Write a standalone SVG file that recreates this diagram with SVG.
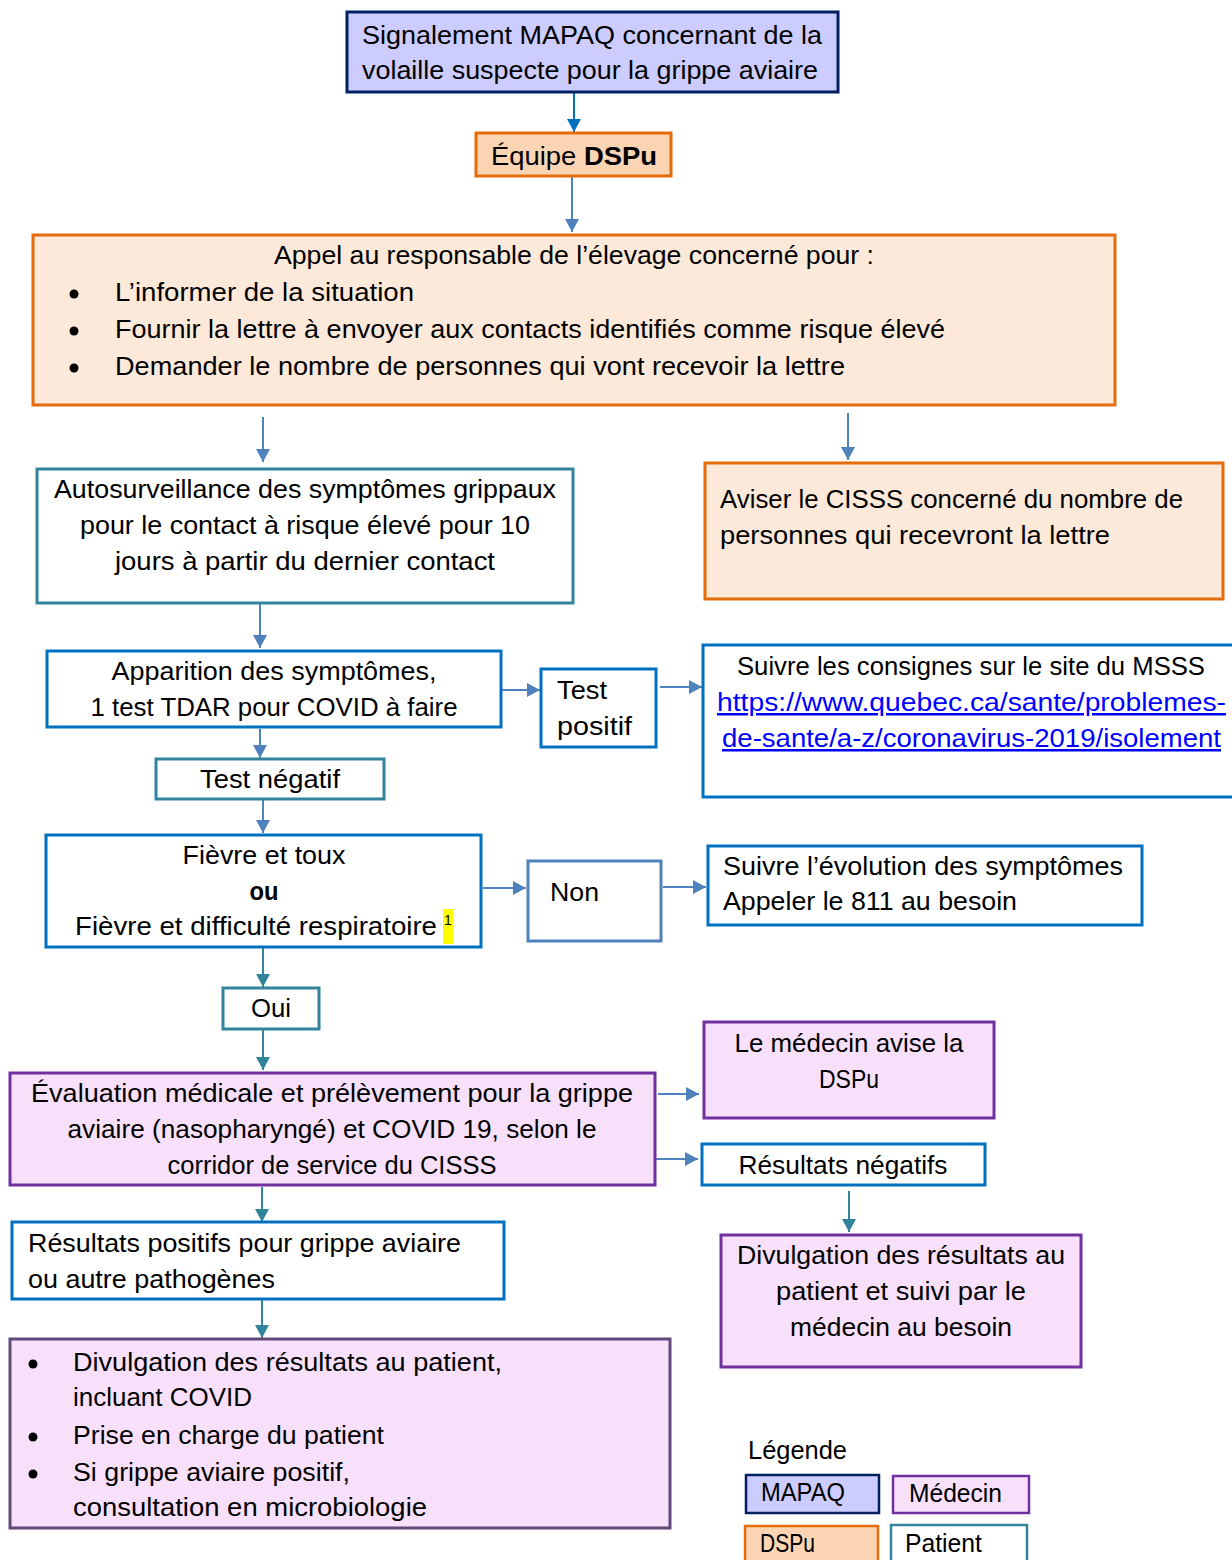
<svg xmlns="http://www.w3.org/2000/svg" width="1232" height="1560" viewBox="0 0 1232 1560">
<style>
text{font-family:"Liberation Sans",Arial,sans-serif;font-size:25px;fill:#000}
.c{text-anchor:middle}
.b{stroke-width:3}
.mapaq{fill:#ccccff;stroke:#002060}
.dspu{fill:#fbd4b4;stroke:#e46c0a}
.dspl{fill:#fde9d9;stroke:#e46c0a}
.pat{fill:#fff;stroke:#31849b}
.blue{fill:#fff;stroke:#0070c0}
.lb{fill:#fff;stroke:#4f81bd}
.med{fill:#f8e0fb;stroke:#7030a0}
.med2{fill:#f8e0fb;stroke:#604a7b}
.link{fill:#0000ff;text-decoration:underline}
.a1{stroke:#0070c0;stroke-width:2;fill:none;marker-end:url(#m1)}
.a2{stroke:#4f81bd;stroke-width:2;fill:none;marker-end:url(#m2)}
.a3{stroke:#31849b;stroke-width:2;fill:none;marker-end:url(#m3)}
</style>
<defs>
<marker id="m1" markerUnits="userSpaceOnUse" markerWidth="14" markerHeight="14" refX="13" refY="7" orient="auto"><path d="M0,0 L13,7 L0,14 z" fill="#0070c0"/></marker>
<marker id="m2" markerUnits="userSpaceOnUse" markerWidth="14" markerHeight="14" refX="13" refY="7" orient="auto"><path d="M0,0 L13,7 L0,14 z" fill="#4f81bd"/></marker>
<marker id="m3" markerUnits="userSpaceOnUse" markerWidth="14" markerHeight="14" refX="13" refY="7" orient="auto"><path d="M0,0 L13,7 L0,14 z" fill="#31849b"/></marker>
</defs>
<rect width="1232" height="1560" fill="#fff"/>

<g id="connectors">
<line class="a1" x1="574" y1="93" x2="574" y2="132"/>
<line class="a2" x1="572" y1="177" x2="572" y2="232"/>
<line class="a2" x1="263" y1="417" x2="263" y2="462"/>
<line class="a2" x1="848" y1="413" x2="848" y2="460"/>
<line class="a2" x1="260" y1="604" x2="260" y2="648"/>
<line class="a2" x1="502" y1="690" x2="540" y2="690"/>
<line class="a2" x1="660" y1="687" x2="702" y2="687"/>
<line class="a2" x1="260" y1="729" x2="260" y2="758"/>
<line class="a2" x1="263" y1="800" x2="263" y2="833"/>
<line class="a2" x1="483" y1="888" x2="526" y2="888"/>
<line class="a2" x1="663" y1="887" x2="706" y2="887"/>
<line class="a3" x1="263" y1="948" x2="263" y2="987"/>
<line class="a3" x1="263" y1="1030" x2="263" y2="1070"/>
<line class="a2" x1="658" y1="1094" x2="699" y2="1094"/>
<line class="a2" x1="656" y1="1159" x2="698" y2="1159"/>
<line class="a3" x1="849" y1="1191" x2="849" y2="1232"/>
<line class="a3" x1="262" y1="1187" x2="262" y2="1222"/>
<line class="a3" x1="262" y1="1300" x2="262" y2="1338"/>
</g>

<g id="n-mapaq">
<rect class="mapaq b" x="347" y="12" width="491" height="80"/>
<text class="c" x="592" y="44" textLength="460" lengthAdjust="spacingAndGlyphs">Signalement MAPAQ concernant de la</text>
<text class="c" x="590" y="79" textLength="456" lengthAdjust="spacingAndGlyphs">volaille suspecte pour la grippe aviaire</text>
</g>

<g id="n-dspu">
<rect class="dspu b" x="476" y="133" width="195" height="43"/>
<text class="c" x="574" y="165" textLength="166" lengthAdjust="spacingAndGlyphs">Équipe <tspan font-weight="bold">DSPu</tspan></text>
</g>

<g id="n-appel">
<rect class="dspl b" x="33" y="235" width="1082" height="170"/>
<text class="c" x="574" y="264" textLength="600" lengthAdjust="spacingAndGlyphs">Appel au responsable de l’élevage concerné pour :</text>
<circle cx="74" cy="294" r="4.5"/>
<circle cx="74" cy="331" r="4.5"/>
<circle cx="74" cy="368" r="4.5"/>
<text x="115" y="301" textLength="299" lengthAdjust="spacingAndGlyphs">L’informer de la situation</text>
<text x="115" y="338" textLength="830" lengthAdjust="spacingAndGlyphs">Fournir la lettre à envoyer aux contacts identifiés comme risque élevé</text>
<text x="115" y="375" textLength="730" lengthAdjust="spacingAndGlyphs">Demander le nombre de personnes qui vont recevoir la lettre</text>
</g>

<g id="n-auto">
<rect class="pat b" x="37" y="469" width="536" height="134"/>
<text class="c" x="305" y="498" textLength="502" lengthAdjust="spacingAndGlyphs">Autosurveillance des symptômes grippaux</text>
<text class="c" x="305" y="534" textLength="450" lengthAdjust="spacingAndGlyphs">pour le contact à risque élevé pour 10</text>
<text class="c" x="305" y="570" textLength="380" lengthAdjust="spacingAndGlyphs">jours à partir du dernier contact</text>
</g>

<g id="n-cisss">
<rect class="dspl b" x="705" y="463" width="518" height="136"/>
<text x="720" y="508" textLength="463" lengthAdjust="spacingAndGlyphs">Aviser le CISSS concerné du nombre de</text>
<text x="720" y="544" textLength="390" lengthAdjust="spacingAndGlyphs">personnes qui recevront la lettre</text>
</g>

<g id="n-apparition">
<rect class="blue b" x="47" y="651" width="454" height="76"/>
<text class="c" x="274" y="680" textLength="325" lengthAdjust="spacingAndGlyphs">Apparition des symptômes,</text>
<text class="c" x="274" y="716" textLength="367" lengthAdjust="spacingAndGlyphs">1 test TDAR pour COVID à faire</text>
</g>

<g id="n-testpos">
<rect class="blue b" x="541" y="669" width="115" height="78"/>
<text x="557" y="699" textLength="50" lengthAdjust="spacingAndGlyphs">Test</text>
<text x="557" y="735" textLength="75" lengthAdjust="spacingAndGlyphs">positif</text>
</g>

<g id="n-msss">
<rect class="blue b" x="703" y="645" width="535" height="152"/>
<text class="c" x="971" y="675" textLength="468" lengthAdjust="spacingAndGlyphs">Suivre les consignes sur le site du MSSS</text>
<text class="link" x="717" y="711" textLength="509" lengthAdjust="spacingAndGlyphs">https://www.quebec.ca/sante/problemes-</text>
<text class="link" x="722" y="747" textLength="499" lengthAdjust="spacingAndGlyphs">de-sante/a-z/coronavirus-2019/isolement</text>
</g>

<g id="n-testneg">
<rect class="pat b" x="156" y="759" width="228" height="40"/>
<text class="c" x="270" y="788" textLength="140" lengthAdjust="spacingAndGlyphs">Test négatif</text>
</g>

<g id="n-fievre">
<rect class="blue b" x="46" y="835" width="435" height="112"/>
<text class="c" x="264" y="864" textLength="163" lengthAdjust="spacingAndGlyphs">Fièvre et toux</text>
<text class="c" x="264" y="900" font-weight="bold" textLength="29" lengthAdjust="spacingAndGlyphs">ou</text>
<text x="75" y="935" textLength="362" lengthAdjust="spacingAndGlyphs">Fièvre et difficulté respiratoire</text>
<rect x="443" y="909" width="10" height="35" fill="#ffff00"/>
<text x="444" y="925" style="font-size:14px">1</text>
</g>

<g id="n-non">
<rect class="lb b" x="528" y="861" width="133" height="80"/>
<text x="550" y="901" textLength="49" lengthAdjust="spacingAndGlyphs">Non</text>
</g>

<g id="n-evol">
<rect class="blue b" x="708" y="846" width="434" height="79"/>
<text x="723" y="875" textLength="400" lengthAdjust="spacingAndGlyphs">Suivre l’évolution des symptômes</text>
<text x="723" y="910" textLength="294" lengthAdjust="spacingAndGlyphs">Appeler le 811 au besoin</text>
</g>

<g id="n-oui">
<rect class="pat b" x="223" y="988" width="96" height="41"/>
<text class="c" x="271" y="1017" textLength="40" lengthAdjust="spacingAndGlyphs">Oui</text>
</g>

<g id="n-eval">
<rect class="med b" x="10" y="1073" width="645" height="112"/>
<text class="c" x="332" y="1102" textLength="602" lengthAdjust="spacingAndGlyphs">Évaluation médicale et prélèvement pour la grippe</text>
<text class="c" x="332" y="1138" textLength="529" lengthAdjust="spacingAndGlyphs">aviaire (nasopharyngé) et COVID 19, selon le</text>
<text class="c" x="332" y="1174" textLength="329" lengthAdjust="spacingAndGlyphs">corridor de service du CISSS</text>
</g>

<g id="n-medecin">
<rect class="med b" x="704" y="1022" width="290" height="96"/>
<text class="c" x="849" y="1052" textLength="229" lengthAdjust="spacingAndGlyphs">Le médecin avise la</text>
<text class="c" x="849" y="1088" textLength="60" lengthAdjust="spacingAndGlyphs">DSPu</text>
</g>

<g id="n-resneg">
<rect class="blue b" x="702" y="1144" width="283" height="41"/>
<text class="c" x="843" y="1174" textLength="209" lengthAdjust="spacingAndGlyphs">Résultats négatifs</text>
</g>

<g id="n-divneg">
<rect class="med b" x="721" y="1235" width="360" height="132"/>
<text class="c" x="901" y="1264" textLength="328" lengthAdjust="spacingAndGlyphs">Divulgation des résultats au</text>
<text class="c" x="901" y="1300" textLength="250" lengthAdjust="spacingAndGlyphs">patient et suivi par le</text>
<text class="c" x="901" y="1336" textLength="222" lengthAdjust="spacingAndGlyphs">médecin au besoin</text>
</g>

<g id="n-respos">
<rect class="blue b" x="12" y="1222" width="492" height="77"/>
<text x="28" y="1252" textLength="433" lengthAdjust="spacingAndGlyphs">Résultats positifs pour grippe aviaire</text>
<text x="28" y="1288" textLength="247" lengthAdjust="spacingAndGlyphs">ou autre pathogènes</text>
</g>

<g id="n-divpos">
<rect class="med2 b" x="10" y="1339" width="660" height="189"/>
<circle cx="33" cy="1364" r="4.5"/>
<circle cx="33" cy="1437" r="4.5"/>
<circle cx="33" cy="1474" r="4.5"/>
<text x="73" y="1371" textLength="429" lengthAdjust="spacingAndGlyphs">Divulgation des résultats au patient,</text>
<text x="73" y="1406" textLength="179" lengthAdjust="spacingAndGlyphs">incluant COVID</text>
<text x="73" y="1444" textLength="311" lengthAdjust="spacingAndGlyphs">Prise en charge du patient</text>
<text x="73" y="1481" textLength="277" lengthAdjust="spacingAndGlyphs">Si grippe aviaire positif,</text>
<text x="73" y="1516" textLength="354" lengthAdjust="spacingAndGlyphs">consultation en microbiologie</text>
</g>

<g id="legend">
<text x="748" y="1459" textLength="99" lengthAdjust="spacingAndGlyphs">Légende</text>
<rect class="mapaq" stroke-width="2.5" x="746" y="1475" width="133" height="38"/>
<text x="761" y="1501" textLength="84" lengthAdjust="spacingAndGlyphs">MAPAQ</text>
<rect class="med" stroke-width="2.5" x="893" y="1476" width="136" height="37"/>
<text x="909" y="1502" textLength="93" lengthAdjust="spacingAndGlyphs">Médecin</text>
<rect class="dspu" stroke-width="2.5" x="745" y="1526" width="133" height="40"/>
<text x="760" y="1552" textLength="55" lengthAdjust="spacingAndGlyphs">DSPu</text>
<rect class="pat" stroke-width="2.5" x="891" y="1525" width="136" height="40"/>
<text x="905" y="1552" textLength="77" lengthAdjust="spacingAndGlyphs">Patient</text>
</g>
</svg>
